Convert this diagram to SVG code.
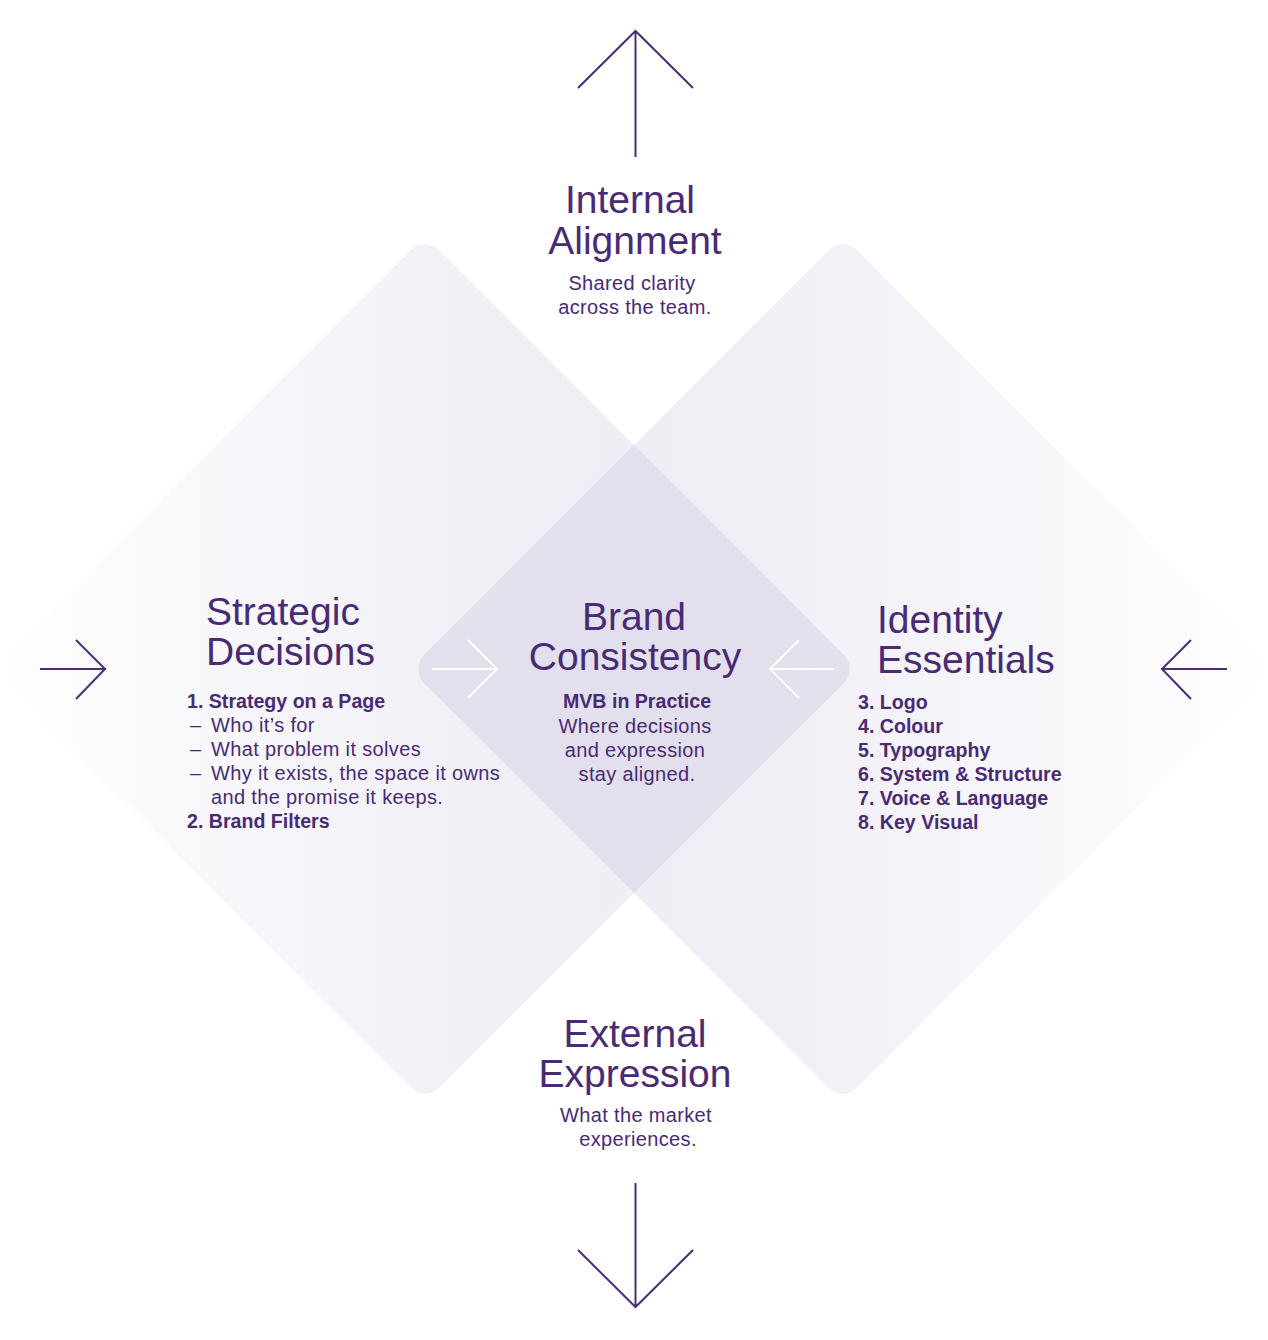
<svg xmlns="http://www.w3.org/2000/svg" width="1268" height="1340" viewBox="0 0 1268 1340">
  <defs>
    <linearGradient id="gL" gradientUnits="userSpaceOnUse" x1="-8" y1="0" x2="858" y2="0">
      <stop offset="0" stop-color="#afa5cd" stop-opacity="0.0"/>
      <stop offset="0.3" stop-color="#afa5cd" stop-opacity="0.1"/>
      <stop offset="0.6" stop-color="#afa5cd" stop-opacity="0.18"/>
      <stop offset="1" stop-color="#afa5cd" stop-opacity="0.22"/>
    </linearGradient>
    <linearGradient id="gR" gradientUnits="userSpaceOnUse" x1="1276" y1="0" x2="410" y2="0">
      <stop offset="0" stop-color="#afa5cd" stop-opacity="0.0"/>
      <stop offset="0.3" stop-color="#afa5cd" stop-opacity="0.1"/>
      <stop offset="0.6" stop-color="#afa5cd" stop-opacity="0.18"/>
      <stop offset="1" stop-color="#afa5cd" stop-opacity="0.22"/>
    </linearGradient>
    <style>
      text { font-family: "Liberation Sans", Arial, sans-serif; fill: #482a75; }
      .title { font-size: 39px; }
      .sub { font-size: 20px; letter-spacing: 0.35px; }
      .b { font-size: 19.6px; font-weight: bold; }
      .mid { text-anchor: middle; }
      .arrow { fill: none; stroke: #4a2c7a; stroke-width: 2; stroke-linecap: butt; stroke-linejoin: miter; }
      .warrow { fill: none; stroke: #ffffff; stroke-width: 2; }
    </style>
  </defs>
  <rect width="1268" height="1340" fill="#ffffff"/>

  <g id="shapes">
    <path id="diamond-left" fill="url(#gL)" d="M 410.86,250.14 A 20 20 0 0 1 439.14,250.14 L 843.86,654.86 A 20 20 0 0 1 843.86,683.14 L 439.14,1087.86 A 20 20 0 0 1 410.86,1087.86 L 6.14,683.14 A 20 20 0 0 1 6.14,654.86 Z"/>
    <path id="diamond-right" fill="url(#gR)" d="M 828.86,250.14 A 20 20 0 0 1 857.14,250.14 L 1261.86,654.86 A 20 20 0 0 1 1261.86,683.14 L 857.14,1087.86 A 20 20 0 0 1 828.86,1087.86 L 424.14,683.14 A 20 20 0 0 1 424.14,654.86 Z"/>
  </g>

  <g id="connectors">
    <path class="arrow" d="M 635.5,157 L 635.5,31 M 578,88 L 635.5,31 L 693,88"/>
    <path class="arrow" d="M 635.5,1183 L 635.5,1307 M 578,1250 L 635.5,1307 L 693,1250"/>
    <path class="arrow" d="M 40,669 L 106,669 M 76,640 L 105,669 L 76,699"/>
    <path class="arrow" d="M 1227,669 L 1161,669 M 1191,640 L 1162,669 L 1191,699"/>
    <path class="warrow" d="M 432,669 L 497,669 M 468,640 L 497,669 L 468,698"/>
    <path class="warrow" d="M 834,669 L 770,669 M 799,640 L 770,669 L 799,698"/>
  </g>

  <g id="internal-alignment">
    <text class="title mid" x="630" y="213">Internal</text>
    <text class="title mid" x="635" y="254">Alignment</text>
    <text class="sub mid" x="632" y="290">Shared clarity</text>
    <text class="sub mid" x="635" y="314">across the team.</text>
  </g>

  <g id="strategic-decisions">
    <text class="title" x="206" y="625">Strategic</text>
    <text class="title" x="206" y="665">Decisions</text>
    <text class="b" x="187" y="708">1. Strategy on a Page</text>
    <text class="sub" x="190" y="732">–</text>
    <text class="sub" x="211" y="732">Who it’s for</text>
    <text class="sub" x="190" y="756">–</text>
    <text class="sub" x="211" y="756">What problem it solves</text>
    <text class="sub" x="190" y="780">–</text>
    <text class="sub" x="211" y="780">Why it exists, the space it owns</text>
    <text class="sub" x="211" y="804">and the promise it keeps.</text>
    <text class="b" x="187" y="828">2. Brand Filters</text>
  </g>

  <g id="brand-consistency">
    <text class="title mid" x="634" y="630">Brand</text>
    <text class="title mid" x="635" y="670">Consistency</text>
    <text class="b mid" x="637" y="708">MVB in Practice</text>
    <text class="sub mid" x="635" y="733">Where decisions</text>
    <text class="sub mid" x="635" y="757">and expression</text>
    <text class="sub mid" x="637" y="781">stay aligned.</text>
  </g>

  <g id="identity-essentials">
    <text class="title" x="877" y="633">Identity</text>
    <text class="title" x="877" y="673">Essentials</text>
    <text class="b" x="858" y="709">3. Logo</text>
    <text class="b" x="858" y="733">4. Colour</text>
    <text class="b" x="858" y="757">5. Typography</text>
    <text class="b" x="858" y="781">6. System &amp; Structure</text>
    <text class="b" x="858" y="805">7. Voice &amp; Language</text>
    <text class="b" x="858" y="829">8. Key Visual</text>
  </g>

  <g id="external-expression">
    <text class="title mid" x="635" y="1047">External</text>
    <text class="title mid" x="635" y="1087">Expression</text>
    <text class="sub mid" x="636" y="1122">What the market</text>
    <text class="sub mid" x="638" y="1146">experiences.</text>
  </g>
</svg>
